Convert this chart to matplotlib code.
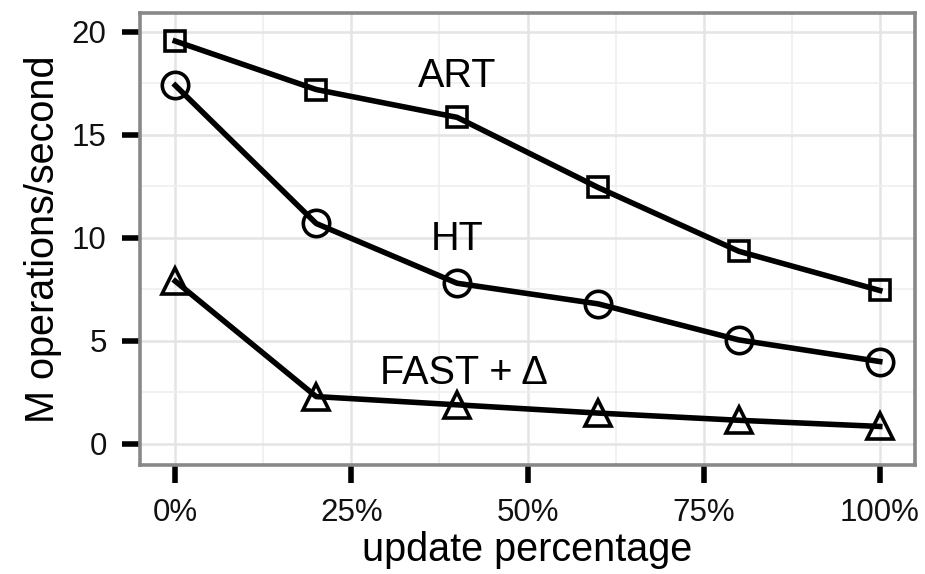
import matplotlib
matplotlib.use("Agg")
import matplotlib.pyplot as plt
from matplotlib.ticker import FixedLocator

# Throughput vs. update share for three index structures
update_pct = [0, 20, 40, 60, 80, 100]
art = [19.55, 17.2, 15.85, 12.45, 9.35, 7.45]
ht = [17.4, 10.7, 7.8, 6.8, 5.05, 4.0]
fast_delta = [7.9, 2.3, 1.9, 1.5, 1.15, 0.85]

x_ticks = [0, 25, 50, 75, 100]
x_tick_labels = ["0%", "25%", "50%", "75%", "100%"]
y_ticks = [0, 5, 10, 15, 20]

series = [
    ("ART", art, "s", 15, (40, 17.85)),
    ("HT", ht, "o", 19, (40, 9.95)),
    ("FAST + Δ", fast_delta, "^", 19, (41, 3.45)),
]

plt.rcParams["font.family"] = ["Liberation Sans", "DejaVu Sans"]

fig = plt.figure(figsize=(9.25, 5.74), dpi=100)
ax = fig.add_axes([0.1514, 0.1899, 0.8378, 0.7877])

ax.set_xlim(-5, 105)
ax.set_ylim(-1.02, 20.92)

# grid (major + minor), behind the data
ax.xaxis.set_major_locator(FixedLocator(x_ticks))
ax.yaxis.set_major_locator(FixedLocator(y_ticks))
ax.xaxis.set_minor_locator(FixedLocator([12.5, 37.5, 62.5, 87.5]))
ax.yaxis.set_minor_locator(FixedLocator([2.5, 7.5, 12.5, 17.5]))
ax.set_axisbelow(True)
ax.grid(which="major", color="#e4e4e4", linewidth=1.8)
ax.grid(which="minor", color="#efefef", linewidth=1.2)

for label, vals, mk, ms, pos in series:
    ax.plot(update_pct, vals, color="black", linewidth=4.0,
            marker=mk, markersize=ms, markerfacecolor="none",
            markeredgecolor="black", markeredgewidth=2.6, zorder=3)
    ax.text(pos[0], pos[1], label, ha="center", va="center",
            fontsize=28.5, color="black", zorder=4)

ax.set_xticklabels(x_tick_labels)
ax.tick_params(axis="both", which="major", direction="out", length=13,
               width=4.0, color="black", labelsize=22.5, pad=11,
               labelcolor="#111111")
ax.tick_params(axis="both", which="minor", length=0)

for sp in ax.spines.values():
    sp.set_color("#888888")
    sp.set_linewidth(2.6)

ax.set_xlabel("update percentage", fontsize=28.5, labelpad=2)
ax.set_ylabel("M operations/second", fontsize=28.5, labelpad=7)

fig.savefig("out.png", dpi=100, facecolor="white")
